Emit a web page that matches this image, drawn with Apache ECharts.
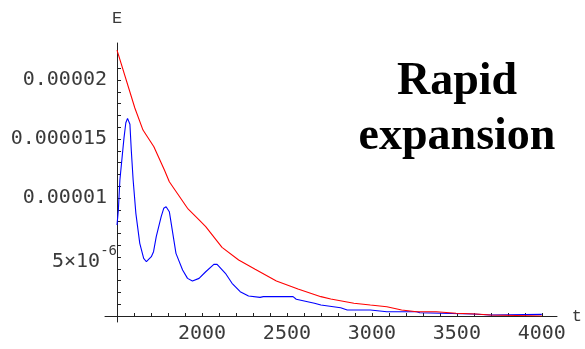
<!DOCTYPE html>
<html>
<head>
<meta charset="utf-8">
<script src="https://cdn.jsdelivr.net/npm/echarts@6/dist/echarts.min.js"></script>
<style>
html,body{margin:0;padding:0;background:#fff;}
#c{width:585px;height:349px;}
</style>
</head>
<body>
<div id="c"></div>
<script>
// E values are in units of 1e-6
const tRed = [1500,1605,1653,1717,1779,1808,1915,1983,2022,2118,2216,2313,2438,2565,2700,2758,2894,2991,3088,3175,3263,3379,3495,3612,3699,4000];
const eRed = [22.54,17.63,15.76,14.35,12.37,11.38,9.13,8.14,7.57,5.82,4.75,3.96,2.97,2.29,1.64,1.44,1.08,0.93,0.79,0.51,0.36,0.36,0.23,0.17,0.08,0.0];

const tBlue = [1500,1508,1517,1541,1552,1562,1568,1576,1584,1595,1611,1634,1657,1673,1702,1715,1731,1760,1775,1789,1808,1847,1886,1915,1944,1983,2022,2070,2089,2138,2177,2225,2274,2342,2348,2361,2536,2555,2662,2700,2816,2855,2991,3088,3263,3282,3593,3699,4000];
const eBlue = [7.71,8.98,11.53,15.08,16.38,16.75,16.75,16.25,14.07,11.53,8.70,6.16,4.89,4.60,5.03,5.45,6.72,8.42,9.13,9.26,8.84,5.31,3.90,3.19,2.97,3.19,3.75,4.38,4.38,3.62,2.77,2.06,1.69,1.58,1.42,1.64,1.64,1.42,1.08,0.93,0.70,0.51,0.51,0.36,0.36,0.28,0.17,0.08,0.14];

const xTickValues = [2000,2500,3000,3500,4000];
const xTickLabels = ['2000','2500','3000','3500','4000'];
const yTickValues = [5,10,15,20];
const yTickLabels = ['5×10^-6','0.00001','0.000015','0.00002'];
const titleLines = ['Rapid','expansion'];

const xMinorTicks = [];
for (let v = 1600; v <= 4000; v += 100) xMinorTicks.push(v);
const yMinorTicks = [];
for (let v = 1; v <= 21; v += 1) yMinorTicks.push(v);

const mono = 'DejaVu Sans Mono';
const labelColor = '#3a3a3a';
const axisColor = '#222';

function yFmt(v) {
  const i = yTickValues.indexOf(v);
  if (i < 0) return '';
  const s = yTickLabels[i];
  if (s.indexOf('^') >= 0) {
    const p = s.split('^');
    return '{b|' + p[0] + '}{s|' + p[1] + '}';
  }
  return '{n|' + s + '}';
}
function xFmt(v) {
  const i = xTickValues.indexOf(v);
  return i < 0 ? '' : xTickLabels[i];
}

const chart = echarts.init(document.getElementById('c'), null, {renderer: 'canvas'});
const hidden = {show: false};
chart.setOption({
  backgroundColor: '#fff',
  animation: false,
  title: {
    text: titleLines.join('\n'),
    left: 457, top: 55, padding: 0,
    textAlign: 'center',
    textStyle: {fontFamily: 'Liberation Serif', fontWeight: 'bold', fontSize: 46, lineHeight: 55, color: '#000'}
  },
  grid: [
    {left: 117, right: 38, top: 43, bottom: 33},
    {left: 105, right: 28, top: 43, bottom: 33},
    {left: 117, right: 38, top: 43, bottom: 27}
  ],
  xAxis: [
    {
      gridIndex: 0, type: 'value', min: 1500, max: 4000,
      axisLine: hidden, splitLine: hidden,
      axisTick: {show: true, inside: true, length: 3, customValues: xMinorTicks, lineStyle: {color: axisColor}},
      axisLabel: {customValues: xTickValues, formatter: xFmt, margin: 8, fontFamily: mono, fontSize: 20, color: labelColor},
      name: 't', nameLocation: 'end', nameGap: 25,
      nameTextStyle: {fontFamily: 'Liberation Mono', fontSize: 17, color: labelColor}
    },
    {gridIndex: 1, type: 'value', min: 0, max: 1, axisLine: {show: true, onZero: false, lineStyle: {color: axisColor, width: 1}}, axisTick: hidden, axisLabel: hidden, splitLine: hidden},
    {gridIndex: 2, type: 'value', min: 0, max: 1, show: false}
  ],
  yAxis: [
    {
      gridIndex: 0, type: 'value', min: 0, max: 23.14,
      axisLine: hidden, splitLine: hidden,
      axisTick: {show: true, inside: true, length: 4, customValues: yMinorTicks, lineStyle: {color: axisColor}},
      axisLabel: {
        customValues: yTickValues, formatter: yFmt, margin: 0,
        rich: {
          n: {fontFamily: mono, fontSize: 20, color: labelColor, padding: [0, 10, 0, 0]},
          b: {fontFamily: mono, fontSize: 20, color: labelColor, padding: [9, 0, 0, 0]},
          s: {fontFamily: mono, fontSize: 14, color: labelColor, verticalAlign: 'top', padding: [2, 0, 0, 0]}
        }
      },
      name: 'E', nameLocation: 'end', nameGap: 16,
      nameTextStyle: {fontFamily: 'Liberation Mono', fontSize: 17, color: labelColor, align: 'center'}
    },
    {gridIndex: 1, type: 'value', min: 0, max: 1, show: false},
    {gridIndex: 2, type: 'value', min: 0, max: 1, axisLine: {show: true, onZero: false, lineStyle: {color: axisColor, width: 1}}, axisTick: hidden, axisLabel: hidden, splitLine: hidden}
  ],
  series: [
    {
      type: 'line', xAxisIndex: 0, yAxisIndex: 0, showSymbol: false, symbol: 'none',
      lineStyle: {color: '#ff0000', width: 1.1}, itemStyle: {color: '#ff0000'},
      data: tRed.map((t, i) => [t, eRed[i]]), z: 3
    },
    {
      type: 'line', xAxisIndex: 0, yAxisIndex: 0, showSymbol: false, symbol: 'none',
      lineStyle: {color: '#0000ff', width: 1.1}, itemStyle: {color: '#0000ff'},
      data: tBlue.map((t, i) => [t, eBlue[i]]), z: 2
    }
  ]
});
</script>
</body>
</html>
